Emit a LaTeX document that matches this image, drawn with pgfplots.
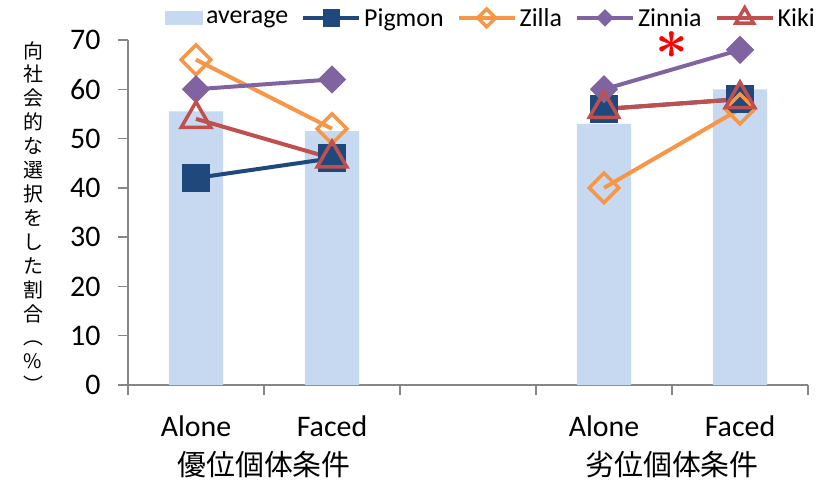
\documentclass[border=0pt]{standalone}
\usepackage{fontspec}
\setmainfont{Carlito}
\newfontfamily\cjk{Noto Sans CJK JP}
\usepackage{graphicx}
\usepackage{pgfplots}
\pgfplotsset{compat=1.18}

\definecolor{barblue}{RGB}{198,217,241}
\definecolor{pigmon}{RGB}{31,73,125}
\definecolor{zilla}{RGB}{247,150,70}
\definecolor{zinnia}{RGB}{128,100,162}
\definecolor{kiki}{RGB}{192,80,77}
\definecolor{axgray}{RGB}{134,134,134}

\begin{document}
\begin{tikzpicture}
\useasboundingbox (0,0) rectangle (836bp,481bp);
\begin{axis}[
    at={(128bp,96bp)}, anchor=south west,
    scale only axis, width=680bp, height=345bp,
    xmin=0.5, xmax=5.5, ymin=0, ymax=70,
    axis lines*=left,
    axis line style={draw=axgray, line width=1.3bp},
    tick align=outside,
    major tick length=10bp,
    every tick/.style={draw=axgray, line width=1.3bp},
    ytick={0,10,...,70},
    yticklabel style={xshift=-14bp},
    xtick={0.5,1.5,2.5,3.5,4.5,5.5},
    xticklabels={},
    extra x ticks={1,2,4,5},
    extra x tick labels={Alone,Faced,Alone,Faced},
    extra x tick style={major tick length=0pt, tick label style={yshift=-27bp}},
    tick label style={font=\fontsize{30}{32}\selectfont},
    /pgf/number format/assume math mode=true,
    unbounded coords=jump,
    clip=false,
    legend columns=-1,
    legend style={draw=none, fill=none, at={(0.533,1.064)}, anchor=center,
        font=\fontsize{26}{28}\selectfont,
        /tikz/every odd column/.append style={column sep=2bp},
        /tikz/every even column/.append style={column sep=12bp},
        nodes={inner sep=1bp}},
    legend image code/.code={\draw[mark repeat=2,mark phase=2,#1,
        every mark/.append style={scale=0.6}]
        plot coordinates {(0bp,0bp) (28bp,0bp) (56bp,0bp)};},
]
\addplot[ybar, bar width=0.4, bar shift=0pt, fill=barblue, draw=none,
    legend image code/.code={\fill[barblue] (0bp,-7bp) rectangle (38bp,7bp);}]
    coordinates {(1,55.5) (2,51.5) (4,53) (5,60)};
\addlegendentry{average}
\addplot[pigmon, line width=4bp, mark=square*, mark size=13.5bp,
    mark options={fill=pigmon, line width=1bp}]
    coordinates {(1,42) (2,46) (3,nan) (4,56) (5,58)};
\addlegendentry{Pigmon}
\addplot[zilla, line width=4bp, mark=square, mark size=10.5bp,
    mark options={rotate=45, fill=white, line width=3.5bp}]
    coordinates {(1,66) (2,52) (3,nan) (4,40) (5,56)};
\addlegendentry{Zilla}
\addplot[zinnia, line width=4bp, mark=square*, mark size=9.5bp,
    mark options={rotate=45, fill=zinnia, line width=1bp}]
    coordinates {(1,60) (2,62) (3,nan) (4,60) (5,68)};
\addlegendentry{Zinnia}
\addplot[kiki, line width=4bp, mark=triangle, mark size=17bp,
    mark options={fill=white, line width=3.5bp}]
    coordinates {(1,54) (2,46) (3,nan) (4,56) (5,58)};
\addlegendentry{Kiki}
\node[red, inner sep=0pt] at (axis cs:4.5,69.0)
    {\scalebox{2.3}{\fontsize{24}{24}\selectfont\boldmath$\ast$}};
\node[font=\cjk\fontsize{29}{31}\selectfont] at (axis cs:1.5,0) [yshift=-80bp] {優位個体条件};
\node[font=\cjk\fontsize{29}{31}\selectfont] at (axis cs:4.5,0) [yshift=-80bp] {劣位個体条件};
\end{axis}
\node[font=\cjk\fontsize{20}{24}\selectfont, align=center] at (33bp,264bp)
  {向\\社\\会\\的\\な\\選\\択\\を\\し\\た\\割\\合\\︵\\\%\\︶};
\end{tikzpicture}
\end{document}
